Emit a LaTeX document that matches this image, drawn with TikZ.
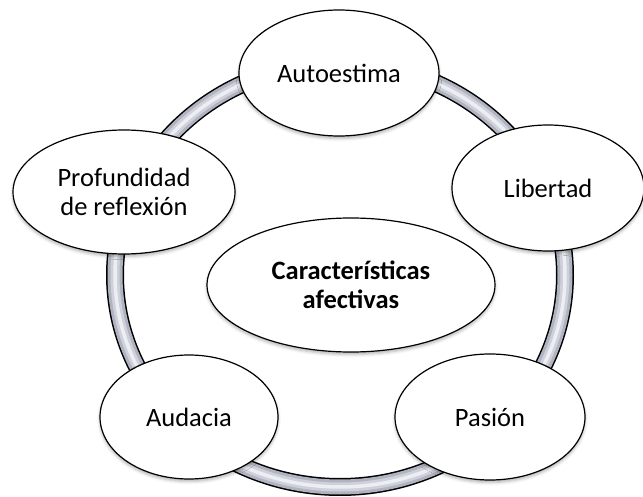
\documentclass[tikz,border=0pt]{standalone}
\usepackage{fontspec}
\setmainfont{Carlito}
\usetikzlibrary{shapes.geometric, shadows.blur}
\definecolor{ringgray}{RGB}{176,180,192}
\definecolor{ringlight}{RGB}{236,238,244}

\begin{document}
\begin{tikzpicture}[
    x=1pt, y=-1pt,
    petal/.style={ellipse, draw=black, line width=1.2pt, fill=white, inner sep=0pt, align=center,
        font=\fontsize{26.5}{29}\selectfont,
        blur shadow={shadow xshift=0pt, shadow yshift=-2.5pt, shadow blur radius=3pt, shadow opacity=30}},
    hub/.style={petal, font=\fontsize{26.5}{29}\selectfont\bfseries}
]
\useasboundingbox (0,0) rectangle (643,497);
% ring behind the ellipses
\draw[line width=18pt, black] (340,275) ellipse [x radius=225pt, y radius=212pt];
\draw[line width=15pt, ringgray] (340,275) ellipse [x radius=225pt, y radius=212pt];
\draw[line width=9pt, ringgray!50!ringlight] (340,275) ellipse [x radius=225pt, y radius=212pt];
\draw[line width=3.5pt, ringlight] (340,275) ellipse [x radius=225pt, y radius=212pt];
% ellipses
\node[petal, minimum width=200pt, minimum height=126pt] (p1) at (339,73) {Autoestima};
\node[petal, minimum width=192pt, minimum height=126pt] (p2) at (548,188) {Libertad};
\node[petal, minimum width=190pt, minimum height=126pt] (p3) at (490,417) {Pasión};
\node[petal, minimum width=178pt, minimum height=124pt] (p4) at (189,417) {Audacia};
\node[petal, minimum width=222pt, minimum height=124pt] (p5) at (124,192) {Profundidad\\de reflexión};
\node[hub, minimum width=288pt, minimum height=134pt] (c) at (351,285) {Características\\afectivas};
\end{tikzpicture}
\end{document}
